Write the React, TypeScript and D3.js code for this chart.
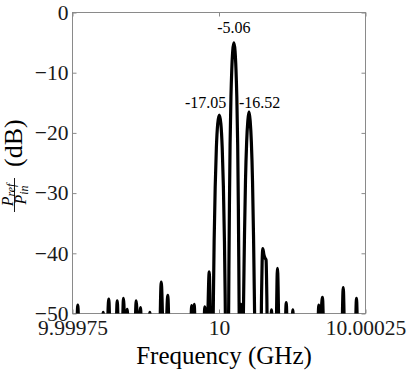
import React, { useEffect, useRef } from "react";
import {
  select,
  scaleLinear,
  line,
  curveMonotoneX,
  axisLeft,
  axisRight,
  axisBottom,
  axisTop,
} from "d3";

// trace: offset from 10 GHz in kHz, level in dB
const freqOffsetKHz = [
  -250, -245, -241, -237, -201, -197.6, -193.5, -188.1, -184, -177.7, -173.7,
  -169.5, -166.8, -163, -160, -156.7, -152.5, -145.5, -141.3, -137.6, -134,
  -130, -121.5, -118, -114.5, -103, -98.6, -93, -87.4, -83, -50.5, -46.6,
  -44.5, -42.3, -38.5, -28, -24.2, -20.5, -16.7, -12.5, -10.5, -9.5, -8.3,
  -6.5, -4.5, -2.2, 0.5, 3.2, 5.5, 7.5, 9.3, 10.5, 11.5, 13.6, 15.9, 16.9,
  17.8, 18.9, 20.4, 21.8, 23.4, 25.4, 27.4, 29, 30.4, 31.9, 33, 33.9, 34.9,
  36.3, 37.5, 38.8, 40.7, 42.2, 43.5, 45.2, 47.2, 49.2, 51.2, 53.2, 55.2,
  57.2, 58.9, 60.2, 61.7, 66, 70.8, 72.6, 73.6, 74.7, 76.6, 78.6, 80.3, 81.6,
  83.5, 86.5, 89.6, 92.8, 96, 99.8, 104, 111, 114.7, 118.5, 122.8, 126,
  129.2, 166.5, 170.3, 173.3, 176.6, 180.5, 208, 212, 216, 231, 234.6, 238.5,
  250,
];
const responseDb = [
  -62, -62, -48.6, -62, -62, -49.8, -62, -47.6, -62, -62, -47.9, -62, -62,
  -47.5, -54, -49.3, -62, -62, -47.9, -55, -49, -62, -62, -49.8, -62, -62,
  -44.8, -62, -47, -62, -62, -48.7, -50.5, -48.5, -62, -62, -48.9, -54, -43.1,
  -62, -56, -47, -38, -29, -22.5, -18.5, -17.05, -18.5, -22.5, -29, -38, -47,
  -56, -62, -56, -43, -32, -22, -14, -9.5, -6.4, -5.06, -6.4, -9.5, -14, -22,
  -32, -43, -56, -60, -48.5, -60, -56, -46, -37, -28, -21.5, -18, -16.52, -18,
  -21.5, -28, -37, -46, -56, -62, -62, -47, -41.5, -39.2, -40.2, -40.8, -41.1,
  -47, -62, -62, -49.4, -62, -62, -42.5, -62, -62, -48.2, -62, -62, -49.4,
  -62, -62, -48.6, -50.5, -47.3, -62, -62, -45.7, -62, -62, -47.5, -62, -62,
];

const yTicks = [0, -10, -20, -30, -40, -50];
const xTicks = [-250, 0, 250];
const xTickLabels = ["9.99975", "10", "10.00025"];

const peakOffsetKHz = [25.4, 0.5, 51.2];
const peakDb = [-5.06, -17.05, -16.52];
const peakLabels = ["-5.06", "-17.05", "-16.52"];

const serif = "'Liberation Serif', 'Times New Roman', serif";

function App() {
  const ref = useRef<SVGSVGElement>(null);

  useEffect(() => {
    const svg = select(ref.current);
    svg.selectAll("*").remove();
    const width = 407;
    const height = 372;
    const margin = { left: 72.5, top: 12.5, right: 41.5, bottom: 58.5 };
    const innerWidth = width - margin.left - margin.right;
    const innerHeight = height - margin.top - margin.bottom;

    const xScale = scaleLinear().domain([-250, 250]).range([0, innerWidth]);
    const yScale = scaleLinear().domain([-50, 0]).range([innerHeight, 0]);

    const g = svg
      .append("g")
      .attr("transform", `translate(${margin.left},${margin.top})`);

    g.append("defs")
      .append("clipPath")
      .attr("id", "plot-clip")
      .append("rect")
      .attr("width", innerWidth)
      .attr("height", innerHeight);

    // box
    g.append("rect")
      .attr("width", innerWidth)
      .attr("height", innerHeight)
      .attr("fill", "none")
      .attr("stroke", "#8a8a8a")
      .attr("stroke-width", 1);

    const styleAxis = (sel: any) => {
      sel.select(".domain").remove();
      sel.selectAll(".tick line").attr("stroke", "#8a8a8a");
      sel
        .selectAll("text")
        .attr("fill", "#1a1a1a")
        .style("font-family", serif)
        .style("font-size", "21.5px");
    };

    g.append("g")
      .call(axisLeft(yScale).tickValues(yTicks).tickSize(-4).tickPadding(4))
      .call(styleAxis);
    g.append("g")
      .attr("transform", `translate(${innerWidth},0)`)
      .call(axisRight(yScale).tickValues(yTicks).tickSize(-4).tickFormat(() => ""))
      .call(styleAxis);
    g.append("g")
      .attr("transform", `translate(0,${innerHeight})`)
      .call(
        axisBottom(xScale)
          .tickValues(xTicks)
          .tickSize(-4)
          .tickPadding(6)
          .tickFormat((d, i) => xTickLabels[i])
      )
      .call(styleAxis);
    g.append("g")
      .call(axisTop(xScale).tickValues(xTicks).tickSize(-4).tickFormat(() => ""))
      .call(styleAxis);

    const trace = line<number>()
      .x((i) => xScale(freqOffsetKHz[i]))
      .y((i) => yScale(responseDb[i]))
      .curve(curveMonotoneX);

    g.append("path")
      .datum(freqOffsetKHz.map((_, i) => i))
      .attr("clip-path", "url(#plot-clip)")
      .attr("d", trace)
      .attr("fill", "none")
      .attr("stroke", "#000")
      .attr("stroke-width", 3.2)
      .attr("stroke-linejoin", "round");

    // peak annotations
    const anchors = ["middle", "end", "start"];
    const dx = [0, 7, -10];
    const dy = [-9.5, -7.3, -4];
    g.selectAll(".peak-label")
      .data(peakLabels)
      .enter()
      .append("text")
      .attr("class", "peak-label")
      .attr("x", (d, i) => xScale(peakOffsetKHz[i]) + dx[i])
      .attr("y", (d, i) => yScale(peakDb[i]) + dy[i])
      .attr("text-anchor", (d, i) => anchors[i])
      .style("font-family", serif)
      .style("font-size", "16px")
      .text((d) => d);

    // x label
    g.append("text")
      .text("Frequency (GHz)")
      .attr("x", innerWidth / 2 + 5)
      .attr("y", innerHeight + 50)
      .attr("text-anchor", "middle")
      .style("font-family", serif)
      .style("font-size", "25px");

    // y label: P_ref / P_in (dB), rotated
    const yl = svg
      .append("g")
      .attr("transform", `translate(14.5,195) rotate(-90)`)
      .style("font-family", serif);
    const num = yl
      .append("text")
      .attr("x", 0)
      .attr("y", -1.8)
      .attr("text-anchor", "middle");
    num.append("tspan").text("P").style("font-style", "italic").style("font-size", "16px");
    num
      .append("tspan")
      .text("ref")
      .attr("dy", 2.5)
      .style("font-style", "italic")
      .style("font-size", "12px");
    yl.append("line")
      .attr("x1", -17)
      .attr("x2", 17)
      .attr("stroke", "#000")
      .attr("stroke-width", 0.9);
    const den = yl
      .append("text")
      .attr("x", 0)
      .attr("y", 11)
      .attr("text-anchor", "middle");
    den.append("tspan").text("P").style("font-style", "italic").style("font-size", "16px");
    den
      .append("tspan")
      .text("in")
      .attr("dy", 2.5)
      .style("font-style", "italic")
      .style("font-size", "12px");
    yl.append("text")
      .text("(dB)")
      .attr("x", 28)
      .attr("y", 7)
      .style("font-size", "26px");
  }, []);

  return (
    <svg
      ref={ref}
      width={407}
      height={372}
      style={{ position: "absolute", left: 0, top: 0, background: "#fff" }}
    ></svg>
  );
}

export default App;
